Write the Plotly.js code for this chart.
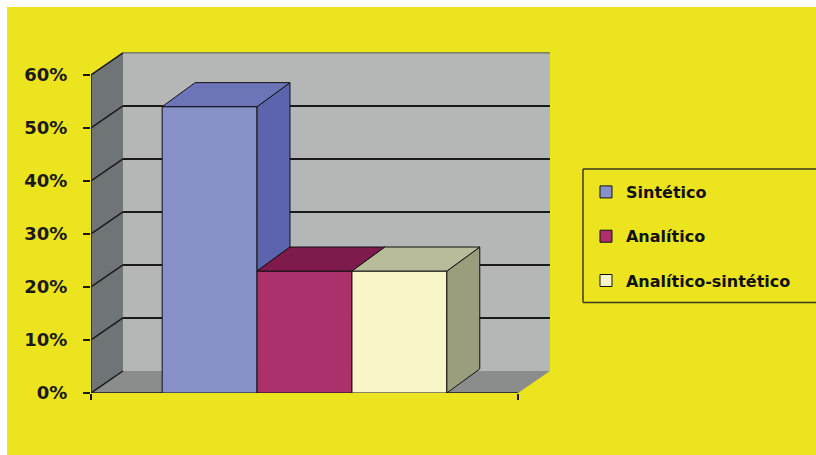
<!DOCTYPE html>
<html>
<head>
<meta charset="utf-8">
<script src="https://cdn.plot.ly/plotly-3.0.1.min.js"></script>
<style>
  html, body { margin: 0; padding: 0; background: #ffffff; width: 816px; height: 455px; overflow: hidden; }
  #chart { position: absolute; left: 7px; top: 7px; width: 809px; height: 448px; }
</style>
</head>
<body>
<div id="chart"></div>
<script>
// ---- data ----
const seriesNames = ['Sintético', 'Analítico', 'Analítico-sintético'];
const seriesValues = [54, 23, 23];
const frontColors = ['#8890c8', '#ac306c', '#f8f6c8'];
const topColors = ['#6d75b9', '#7e1a4c', '#b9bc99'];
const sideColors = ['#5c64ae', '#6e1642', '#9a9e7c'];
const yTickValues = [0, 10, 20, 30, 40, 50, 60];
const yTickLabels = ['0%', '10%', '20%', '30%', '40%', '50%', '60%'];

// ---- layout constants ----
const GAP = 0.75, BAR_W = 1;
const DX_BAR = 0.347, DZ_BAR = 4.53;
const DX_WALL = 0.337, DZ_WALL = 4.15;
const n = seriesValues.length;
const xEnd = GAP * 2 + n * BAR_W;
const yTop = yTickValues[yTickValues.length - 1];

const traces = [];
seriesValues.forEach((v, i) => {
  traces.push({
    type: 'bar', x: [GAP + i + BAR_W / 2], y: [v], width: [BAR_W],
    name: seriesNames[i], legendgroup: 'g' + i,
    marker: { color: frontColors[i], line: { color: '#111', width: 1 } },
    hoverinfo: 'skip'
  });
});
seriesValues.forEach((v, i) => {
  const xl = GAP + i, xr = xl + BAR_W;
  const next = i + 1 < n ? seriesValues[i + 1] : 0;
  const low = Math.min(v, next);
  traces.push({
    type: 'scatter', mode: 'lines', fill: 'toself', showlegend: false, hoverinfo: 'skip',
    x: [xr, xr + DX_BAR, xr + DX_BAR, xr, xr],
    y: [low, low + DZ_BAR, v + DZ_BAR, v, low],
    fillcolor: sideColors[i], line: { color: '#111', width: 1 }
  });
  traces.push({
    type: 'scatter', mode: 'lines', fill: 'toself', showlegend: false, hoverinfo: 'skip',
    x: [xl, xr, xr + DX_BAR, xl + DX_BAR, xl],
    y: [v, v, v + DZ_BAR, v + DZ_BAR, v],
    fillcolor: topColors[i], line: { color: '#111', width: 1 }
  });
});

const shapes = [];
// back wall
shapes.push({ type: 'rect', layer: 'below', xref: 'x', yref: 'y',
  x0: DX_WALL, x1: xEnd + DX_WALL, y0: DZ_WALL, y1: yTop + DZ_WALL,
  fillcolor: '#b5b7b7', line: { width: 0 } });
// floor
shapes.push({ type: 'path', layer: 'below', xref: 'x', yref: 'y',
  path: `M0,0 L${xEnd},0 L${xEnd + DX_WALL},${DZ_WALL} L${DX_WALL},${DZ_WALL} Z`,
  fillcolor: '#8b8d8d', line: { width: 0 } });
// left wall
shapes.push({ type: 'path', layer: 'below', xref: 'x', yref: 'y',
  path: `M0,0 L0,${yTop} L${DX_WALL},${yTop + DZ_WALL} L${DX_WALL},${DZ_WALL} Z`,
  fillcolor: '#6f7476', line: { width: 0 } });
yTickValues.forEach(v => {
  if (v > 0) {
    shapes.push({ type: 'line', layer: 'below', xref: 'x', yref: 'y',
      x0: DX_WALL, x1: xEnd + DX_WALL, y0: v + DZ_WALL, y1: v + DZ_WALL,
      line: { color: v === yTop ? '#555' : '#1a1a1a', width: v === yTop ? 1 : 2 } });
  }
  shapes.push({ type: 'line', layer: 'below', xref: 'x', yref: 'y',
    x0: 0, x1: DX_WALL, y0: v, y1: v + DZ_WALL,
    line: { color: '#1a1a1a', width: 1.5 } });
});
shapes.push({ type: 'line', layer: 'below', xref: 'x', yref: 'y',
  x0: 0, x1: 0, y0: 0, y1: yTop, line: { color: '#1a1a1a', width: 1.5 } });
shapes.push({ type: 'line', layer: 'below', xref: 'x', yref: 'y',
  x0: 0, x1: xEnd, y0: 0, y1: 0, line: { color: '#1a1a1a', width: 1.5 } });
// legend frame (open on the right, as in the original)
const lgL = 1.0719, lgT = 0.655, lgB = 0.2646, lgR = 1.58;
[[lgL, lgT, lgR, lgT], [lgL, lgB, lgR, lgB], [lgL, lgB, lgL, lgT]].forEach(s => {
  shapes.push({ type: 'line', xref: 'paper', yref: 'paper',
    x0: s[0], y0: s[1], x1: s[2], y1: s[3], line: { color: '#3a3a22', width: 1.5 } });
});

const layout = {
  width: 809, height: 448,
  margin: { l: 84, r: 266, t: 44, b: 62, autoexpand: false },
  paper_bgcolor: '#ece41e', plot_bgcolor: 'rgba(0,0,0,0)',
  barmode: 'overlay', hovermode: false,
  font: { family: 'DejaVu Sans', color: '#1a1a1a' },
  xaxis: { range: [0, xEnd + DX_WALL], showgrid: false, zeroline: false, showline: false,
    tickvals: [0, xEnd], showticklabels: false, ticks: 'outside', ticklen: 6,
    tickwidth: 1.5, tickcolor: '#1a1a1a', fixedrange: true },
  yaxis: { range: [0, 64.5], showgrid: false, zeroline: false, showline: false,
    tickvals: yTickValues, ticktext: yTickLabels, ticks: 'outside', ticklen: 7,
    tickwidth: 1.5, tickcolor: '#1a1a1a', ticklabelstandoff: 12,
    tickfont: { family: 'DejaVu Sans', size: 18, weight: 'bold', color: '#1a1a1a' }, fixedrange: true },
  showlegend: true,
  legend: { x: 1.0784, y: 0.6374, xanchor: 'left', yanchor: 'top', xref: 'paper', yref: 'paper',
    bgcolor: 'rgba(0,0,0,0)', borderwidth: 0, traceorder: 'grouped', tracegroupgap: 20.5,
    font: { family: 'DejaVu Sans', size: 16, weight: 'bold', color: '#111' } },
  shapes: shapes
};

Plotly.newPlot('chart', traces, layout, { staticPlot: true, displayModeBar: false });
</script>
</body>
</html>
